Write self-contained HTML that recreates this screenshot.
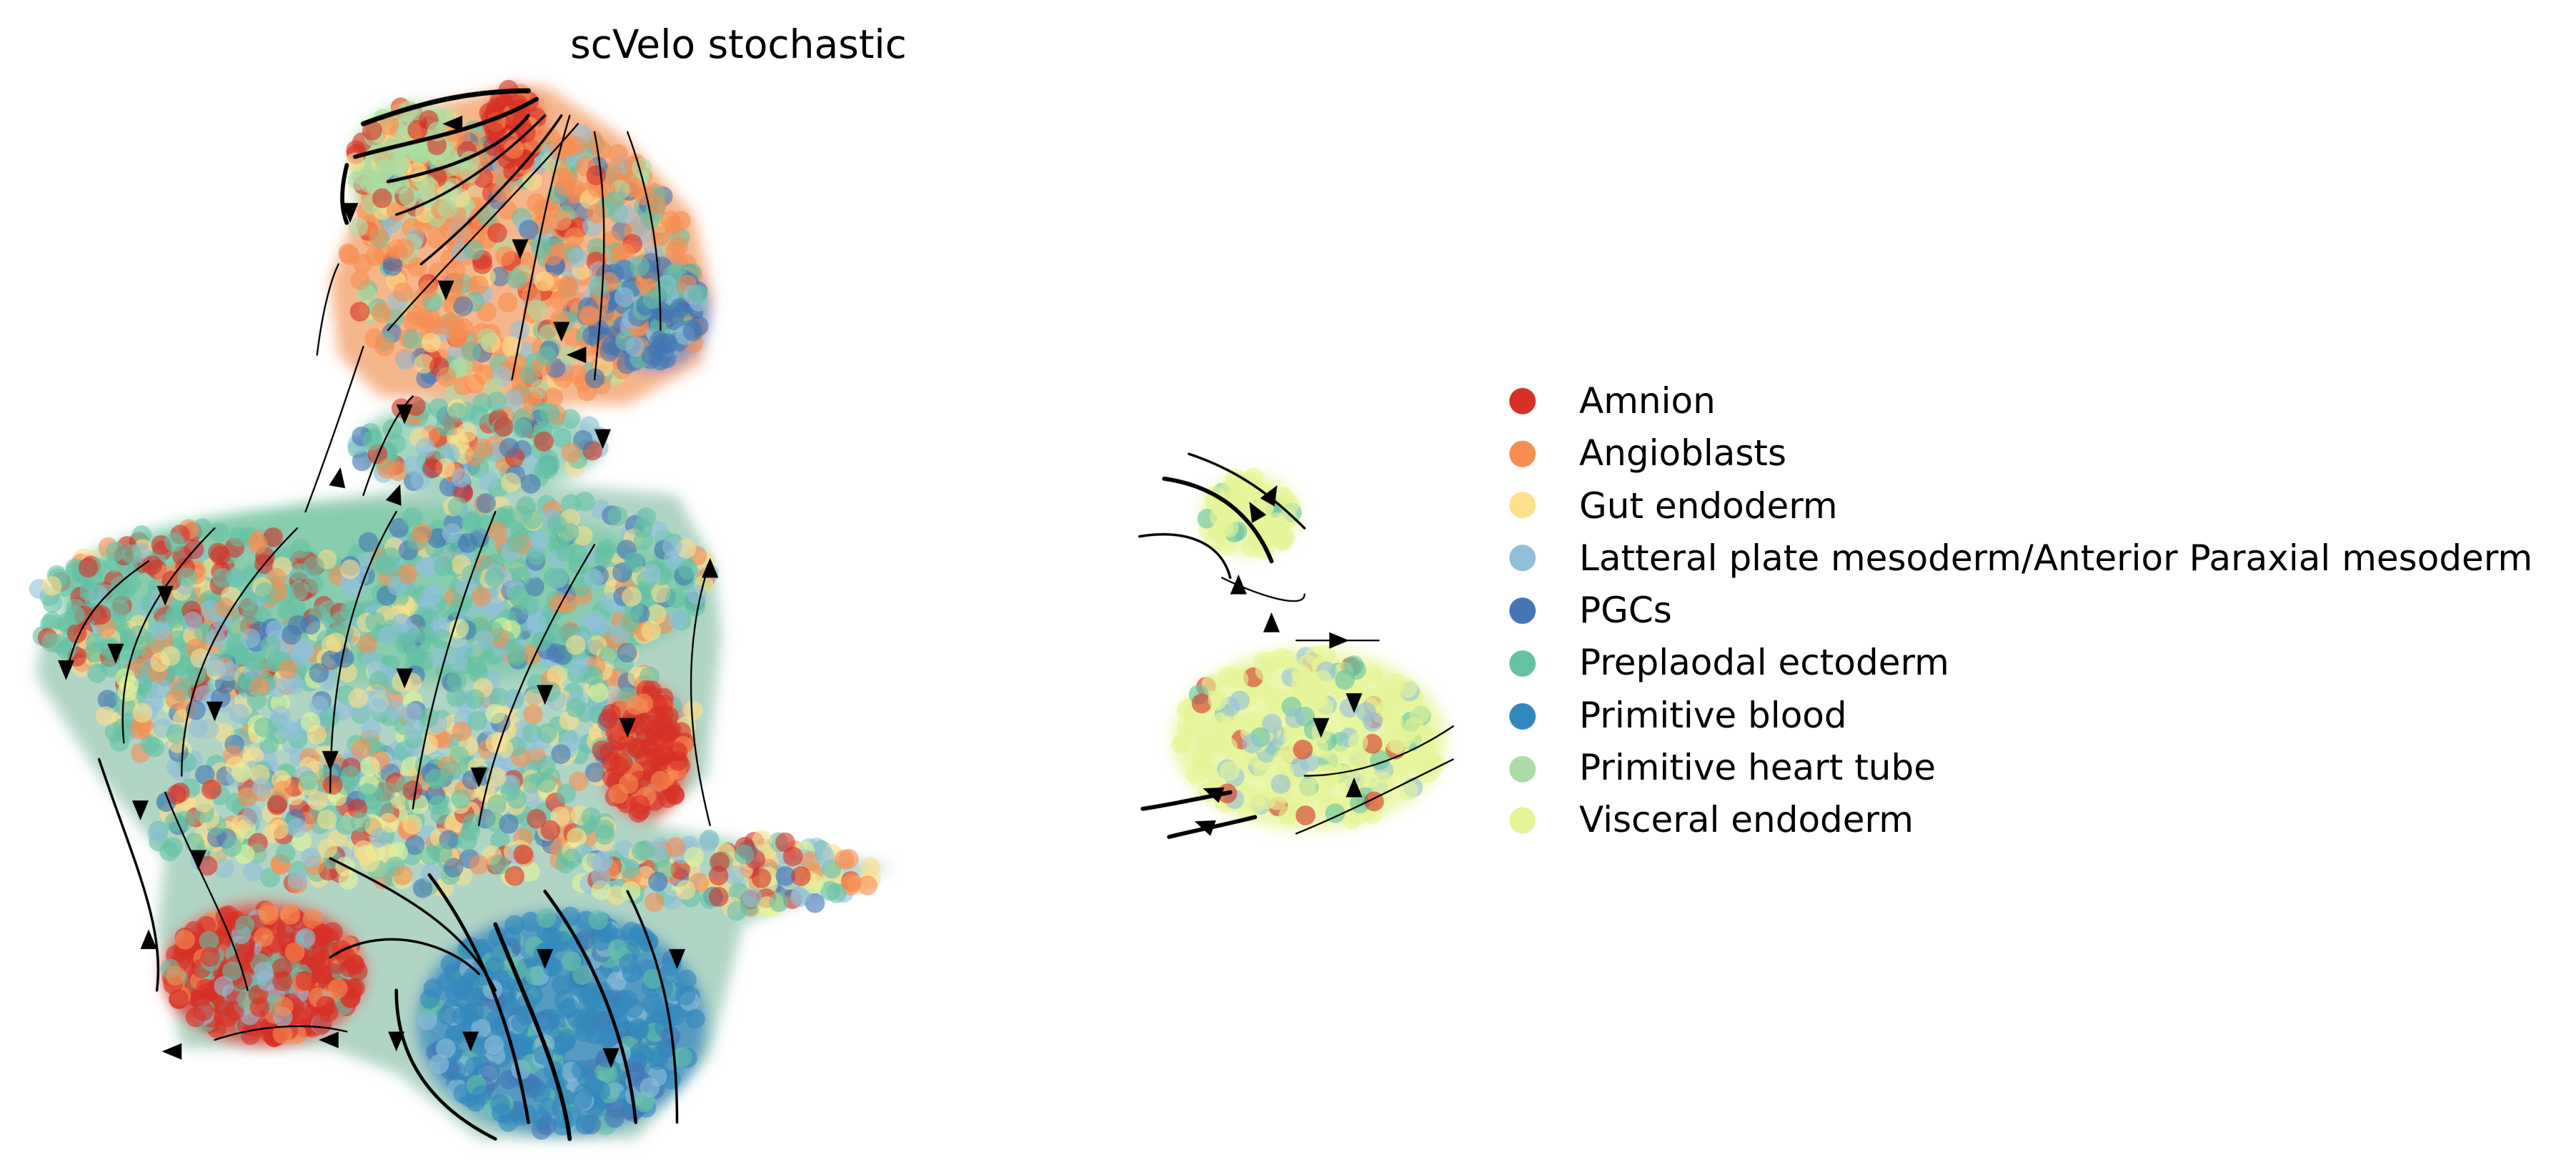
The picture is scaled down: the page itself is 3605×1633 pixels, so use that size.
<!DOCTYPE html>
<html><head><meta charset="utf-8"><style>
html,body{margin:0;padding:0;background:#fff;}
#w{position:relative;width:3605px;height:1633px;overflow:hidden;}
svg{position:absolute;left:0;top:0;}
.t{position:absolute;font-family:"DejaVu Sans","Liberation Sans",sans-serif;color:#000;white-space:nowrap;}
</style></head><body><div id="w">
<svg id="s" width="3605" height="1633" viewBox="0 0 1560 707" preserveAspectRatio="none">
<defs><filter id="bl" x="-10%" y="-10%" width="120%" height="120%"><feGaussianBlur stdDeviation="4"/></filter></defs>
<g id="base" filter="url(#bl)"></g><g id="dots"></g><g id="lines" fill="none" stroke="#000" stroke-linecap="round"></g><g id="arr" fill="#000"></g>
<g>
<circle cx="922" cy="243" r="8" fill="#d73027"/>
<circle cx="922" cy="275" r="8" fill="#f88d52"/>
<circle cx="922" cy="306" r="8" fill="#fee08b"/>
<circle cx="922" cy="338" r="8" fill="#91bfdb"/>
<circle cx="922" cy="370" r="8" fill="#4575b4"/>
<circle cx="922" cy="402" r="8" fill="#66c2a5"/>
<circle cx="922" cy="434" r="8" fill="#3288bd"/>
<circle cx="922" cy="466" r="8" fill="#abdda4"/>
<circle cx="922" cy="497" r="8" fill="#e6f598"/>
</g>
</svg>
<div class="t" style="left:798px;top:30px;font-size:55px;">scVelo stochastic</div>
<div class="t" style="left:2210px;top:525px;font-size:50px;line-height:73.3px;">Amnion<br>Angioblasts<br>Gut endoderm<br>Latteral plate mesoderm/Anterior Paraxial mesoderm<br>PGCs<br>Preplaodal ectoderm<br>Primitive blood<br>Primitive heart tube<br>Visceral endoderm</div>
</div>
<script>
var C={A:"#d73027",B:"#f88d52",G:"#fee08b",L:"#91bfdb",P:"#4575b4",T:"#66c2a5",R:"#3288bd",H:"#abdda4",V:"#e6f598"};
var seed=7;function rnd(){seed=(seed*16807)%2147483647;return (seed-1)/2147483646;}
var ns="http://www.w3.org/2000/svg";
function el(p,t,a){var e=document.createElementNS(ns,t);for(var k in a)e.setAttribute(k,a[k]);p.appendChild(e);return e;}
var base=document.getElementById("base"),dots=document.getElementById("dots");
var bases=[
["polygon",{points:"300,55 330,52 380,85 420,130 432,180 425,220 380,245 300,245 230,240 205,215 200,170 215,130 215,90 240,68",fill:"#f4a46e"}],
["ellipse",{cx:250,cy:100,rx:38,ry:38,fill:"#abdda4"}],
["ellipse",{cx:312,cy:80,rx:18,ry:28,fill:"#e0503a"}],
["ellipse",{cx:395,cy:190,rx:35,ry:35,fill:"#6a8fc4"}],
["polygon",{points:"25,385 60,345 130,315 180,305 300,290 410,300 432,340 437,385 428,470 395,500 450,510 540,525 450,560 430,640 385,690 290,690 240,650 200,635 110,635 95,565 100,520 60,470 22,410",fill:"#9ccab6"}],
["ellipse",{cx:230,cy:360,rx:195,ry:55,fill:"#7ccaa8"}],
["ellipse",{cx:160,cy:590,rx:62,ry:44,fill:"#d9453a"}],
["ellipse",{cx:340,cy:620,rx:88,ry:68,fill:"#3f8fc2"}],
["ellipse",{cx:390,cy:455,rx:28,ry:42,fill:"#df5a45"}],
["ellipse",{cx:290,cy:270,rx:75,ry:28,fill:"#8fcdb0"}],
["ellipse",{cx:757,cy:312,rx:30,ry:25,fill:"#e6f598"}],
["ellipse",{cx:793,cy:448,rx:83,ry:55,fill:"#e6f598"}]];
bases.forEach(function(b){var a=b[1];a.opacity=0.8;el(base,b[0],a);});
var R=[
[315,160,105,85,550,"BBBBBBAGLPTTBH"],[250,100,36,36,120,"HHHHGBA"],[310,80,16,26,60,"AAAB"],[390,190,36,32,160,"PPPLBT"],
[290,270,75,30,130,"TTTLGPBA"],
[120,370,100,50,350,"TTTTTTAALGB"],[320,350,110,50,350,"TTTTTLLGPB"],[240,430,180,55,550,"TTTLLLGGBPVT"],
[230,500,140,40,330,"TTLGGBAPVT"],[440,530,90,22,160,"LGTBPVA"],
[160,590,58,40,280,"AAAAAABLT"],[340,620,83,66,400,"RRRRRRLTP"],[390,455,26,40,110,"AAAB"],
[757,312,28,23,60,"VVVVT"],[793,448,80,52,280,"VVVVVVVVATL"]];
R.forEach(function(r){for(var i=0;i<r[4];i++){var a=rnd()*6.283,d=Math.sqrt(rnd());var s=r[5];
el(dots,"circle",{cx:(r[0]+Math.cos(a)*d*r[2]).toFixed(1),cy:(r[1]+Math.sin(a)*d*r[3]).toFixed(1),r:6,fill:C[s[Math.floor(rnd()*s.length)]],opacity:0.6});}});
var L=document.getElementById("lines"),A=document.getElementById("arr");
var paths=[
["M220,75 C260,60 290,55 320,55",3],["M215,95 C250,85 290,80 325,60",2.5],["M210,100 C205,120 208,130 210,135",2.5],
["M235,110 C260,105 300,95 320,70",2],["M240,130 C270,120 300,100 330,70",1.5],
["M255,160 C280,140 320,100 340,70",1.5],["M235,200 C270,160 320,110 350,75",1],["M310,230 C320,180 330,120 345,70",1],
["M360,230 C365,180 370,130 360,80",1],["M400,200 C400,160 395,120 380,80",1],["M192,215 C195,190 200,170 205,160",1],
["M185,310 C200,270 210,240 220,210",1],["M220,300 C230,270 240,250 250,240",1],
["M90,340 C60,360 45,380 40,410",1],["M130,320 C90,360 70,400 75,450",1],["M180,320 C130,370 110,420 110,470",1],
["M240,310 C210,360 200,420 200,480",1],["M300,310 C280,360 260,420 250,490",1],["M360,330 C330,380 300,440 290,500",1],
["M430,340 C410,400 420,460 430,500",1],["M60,460 C80,520 100,560 95,600",1.5],["M100,480 C120,530 140,560 150,600",1],
["M200,520 C240,540 280,560 300,600",1.5],["M260,530 C290,570 310,620 320,680",2],["M300,560 C320,610 340,650 345,690",2.5],
["M330,540 C360,580 380,630 385,680",2],["M380,540 C400,580 410,620 410,680",1.5],["M240,600 C240,640 260,670 300,690",2],
["M200,580 C230,560 270,570 290,590",1.5],["M130,630 C160,620 190,620 210,625",1],
["M720,275 C750,285 770,300 790,320",1.5],["M705,290 C740,295 760,315 770,340",2.5],["M690,325 C720,320 740,330 745,350",1.5],
["M740,350 C760,360 790,370 790,360",1],["M745,480 C720,485 705,488 692,490",2.5],["M760,495 C740,500 720,504 708,507",2.5],
["M880,440 C850,460 820,470 790,470",1],["M880,460 C840,480 810,495 785,505",1],["M785,388 C800,388 820,388 835,388",1]];
paths.forEach(function(p){el(L,"path",{d:p[0],"stroke-width":p[1]});});
var ar=[[275,75,180],[270,175,90],[212,128,90],[240,300,-70],[205,290,-80],[40,405,90],[70,395,90],[100,360,90],[130,430,90],
[200,460,90],[245,410,90],[290,470,90],[330,420,90],[380,440,90],[430,345,-90],[85,490,90],[120,520,90],[90,570,-90],
[285,630,90],[330,580,90],[370,640,90],[410,580,90],[240,630,90],[200,630,180],[105,637,180],[365,265,90],[350,215,180],
[245,250,90],[315,150,90],[340,200,90],[760,310,-120],[770,300,-60],[750,355,-90],[770,378,-90],[735,480,200],[730,500,200],
[820,425,90],[800,440,90],[810,388,0],[820,478,-90]];
ar.forEach(function(a){el(A,"polygon",{points:"7,0 -5,-5 -5,5",transform:"translate("+a[0]+","+a[1]+") rotate("+a[2]+")"});});
</script>
</body></html>
